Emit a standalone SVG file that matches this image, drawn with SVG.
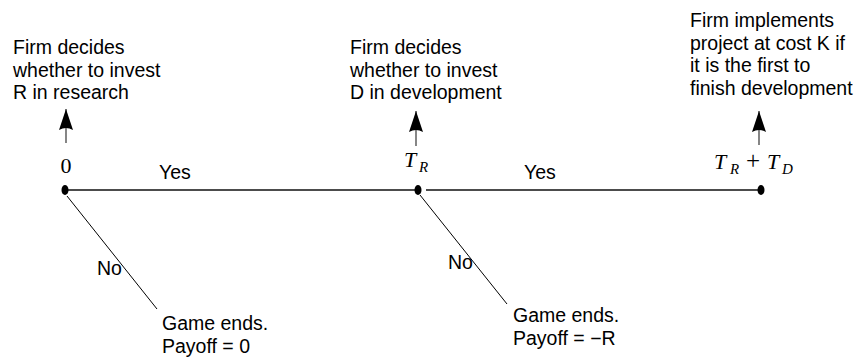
<svg xmlns="http://www.w3.org/2000/svg" width="863" height="363" viewBox="0 0 863 363">
<defs>
<style>
.t{font-family:"Liberation Sans",Arial,sans-serif;font-size:19.5px;fill:#000}
.m{font-family:"Liberation Serif","Times New Roman",serif;font-size:22px;fill:#000}
.mi{font-style:italic}
.s{font-style:italic;font-size:15px}
.h{stroke:#111;stroke-width:1.3;fill:none}
.d{stroke:#000;stroke-width:1;fill:none}
.a{stroke:#222;stroke-width:1.1;fill:none}
</style>
<marker id="ah" markerWidth="24" markerHeight="18" refX="21" refY="8" orient="auto" markerUnits="userSpaceOnUse">
<path d="M21,8 L0,1 Q4,8 0,15 Z" fill="#000"/>
</marker>
</defs>
<rect width="863" height="363" fill="#fff"/>
<g id="connectors">
<line class="h" x1="68" y1="190" x2="416" y2="190"/>
<line class="h" x1="426" y1="190" x2="758" y2="190"/>
<line class="d" x1="67" y1="196" x2="157" y2="309"/>
<line class="d" x1="420" y1="195" x2="507" y2="304"/>
<line class="a" x1="66" y1="143" x2="66" y2="109" marker-end="url(#ah)"/>
<line class="a" x1="416" y1="146" x2="416" y2="111" marker-end="url(#ah)"/>
<line class="a" x1="759" y1="145" x2="759" y2="111" marker-end="url(#ah)"/>
<text class="t" x="159" y="179">Yes</text>
<text class="t" x="524" y="179">Yes</text>
<text class="t" x="97" y="275">No</text>
<text class="t" x="448" y="269">No</text>
</g>
<g id="node-start">
<ellipse cx="65" cy="190" rx="3.5" ry="5" fill="#000"/>
<text class="m" x="66" y="173" text-anchor="middle">0</text>
<text class="t" x="13" y="54">Firm decides</text>
<text class="t" x="13" y="76.5">whether to invest</text>
<text class="t" x="13" y="99">R in research</text>
</g>
<g id="node-tr">
<ellipse cx="418" cy="190" rx="3.5" ry="5" fill="#000"/>
<text class="m" y="167"><tspan class="mi" x="404">T</tspan><tspan class="s" x="419" dy="5">R</tspan></text>
<text class="t" x="350" y="54">Firm decides</text>
<text class="t" x="350" y="76.5">whether to invest</text>
<text class="t" x="350" y="99">D in development</text>
</g>
<g id="node-trtd">
<ellipse cx="761" cy="190" rx="3.5" ry="5" fill="#000"/>
<text class="m" y="169"><tspan class="mi" x="714">T</tspan><tspan class="s" x="730" dy="5">R</tspan><tspan x="746" dy="-5" font-size="25">+</tspan><tspan class="mi" x="767">T</tspan><tspan class="s" x="782" dy="5">D</tspan></text>
<text class="t" x="690" y="27">Firm implements</text>
<text class="t" x="690" y="49.5">project at cost K if</text>
<text class="t" x="690" y="72">it is the first to</text>
<text class="t" x="690" y="94.5">finish development</text>
</g>
<g id="node-end1">
<text class="t" x="162" y="330">Game ends.</text>
<text class="t" x="162" y="353">Payoff = 0</text>
</g>
<g id="node-end2">
<text class="t" x="513" y="322">Game ends.</text>
<text class="t" x="513" y="345">Payoff = −R</text>
</g>
</svg>
